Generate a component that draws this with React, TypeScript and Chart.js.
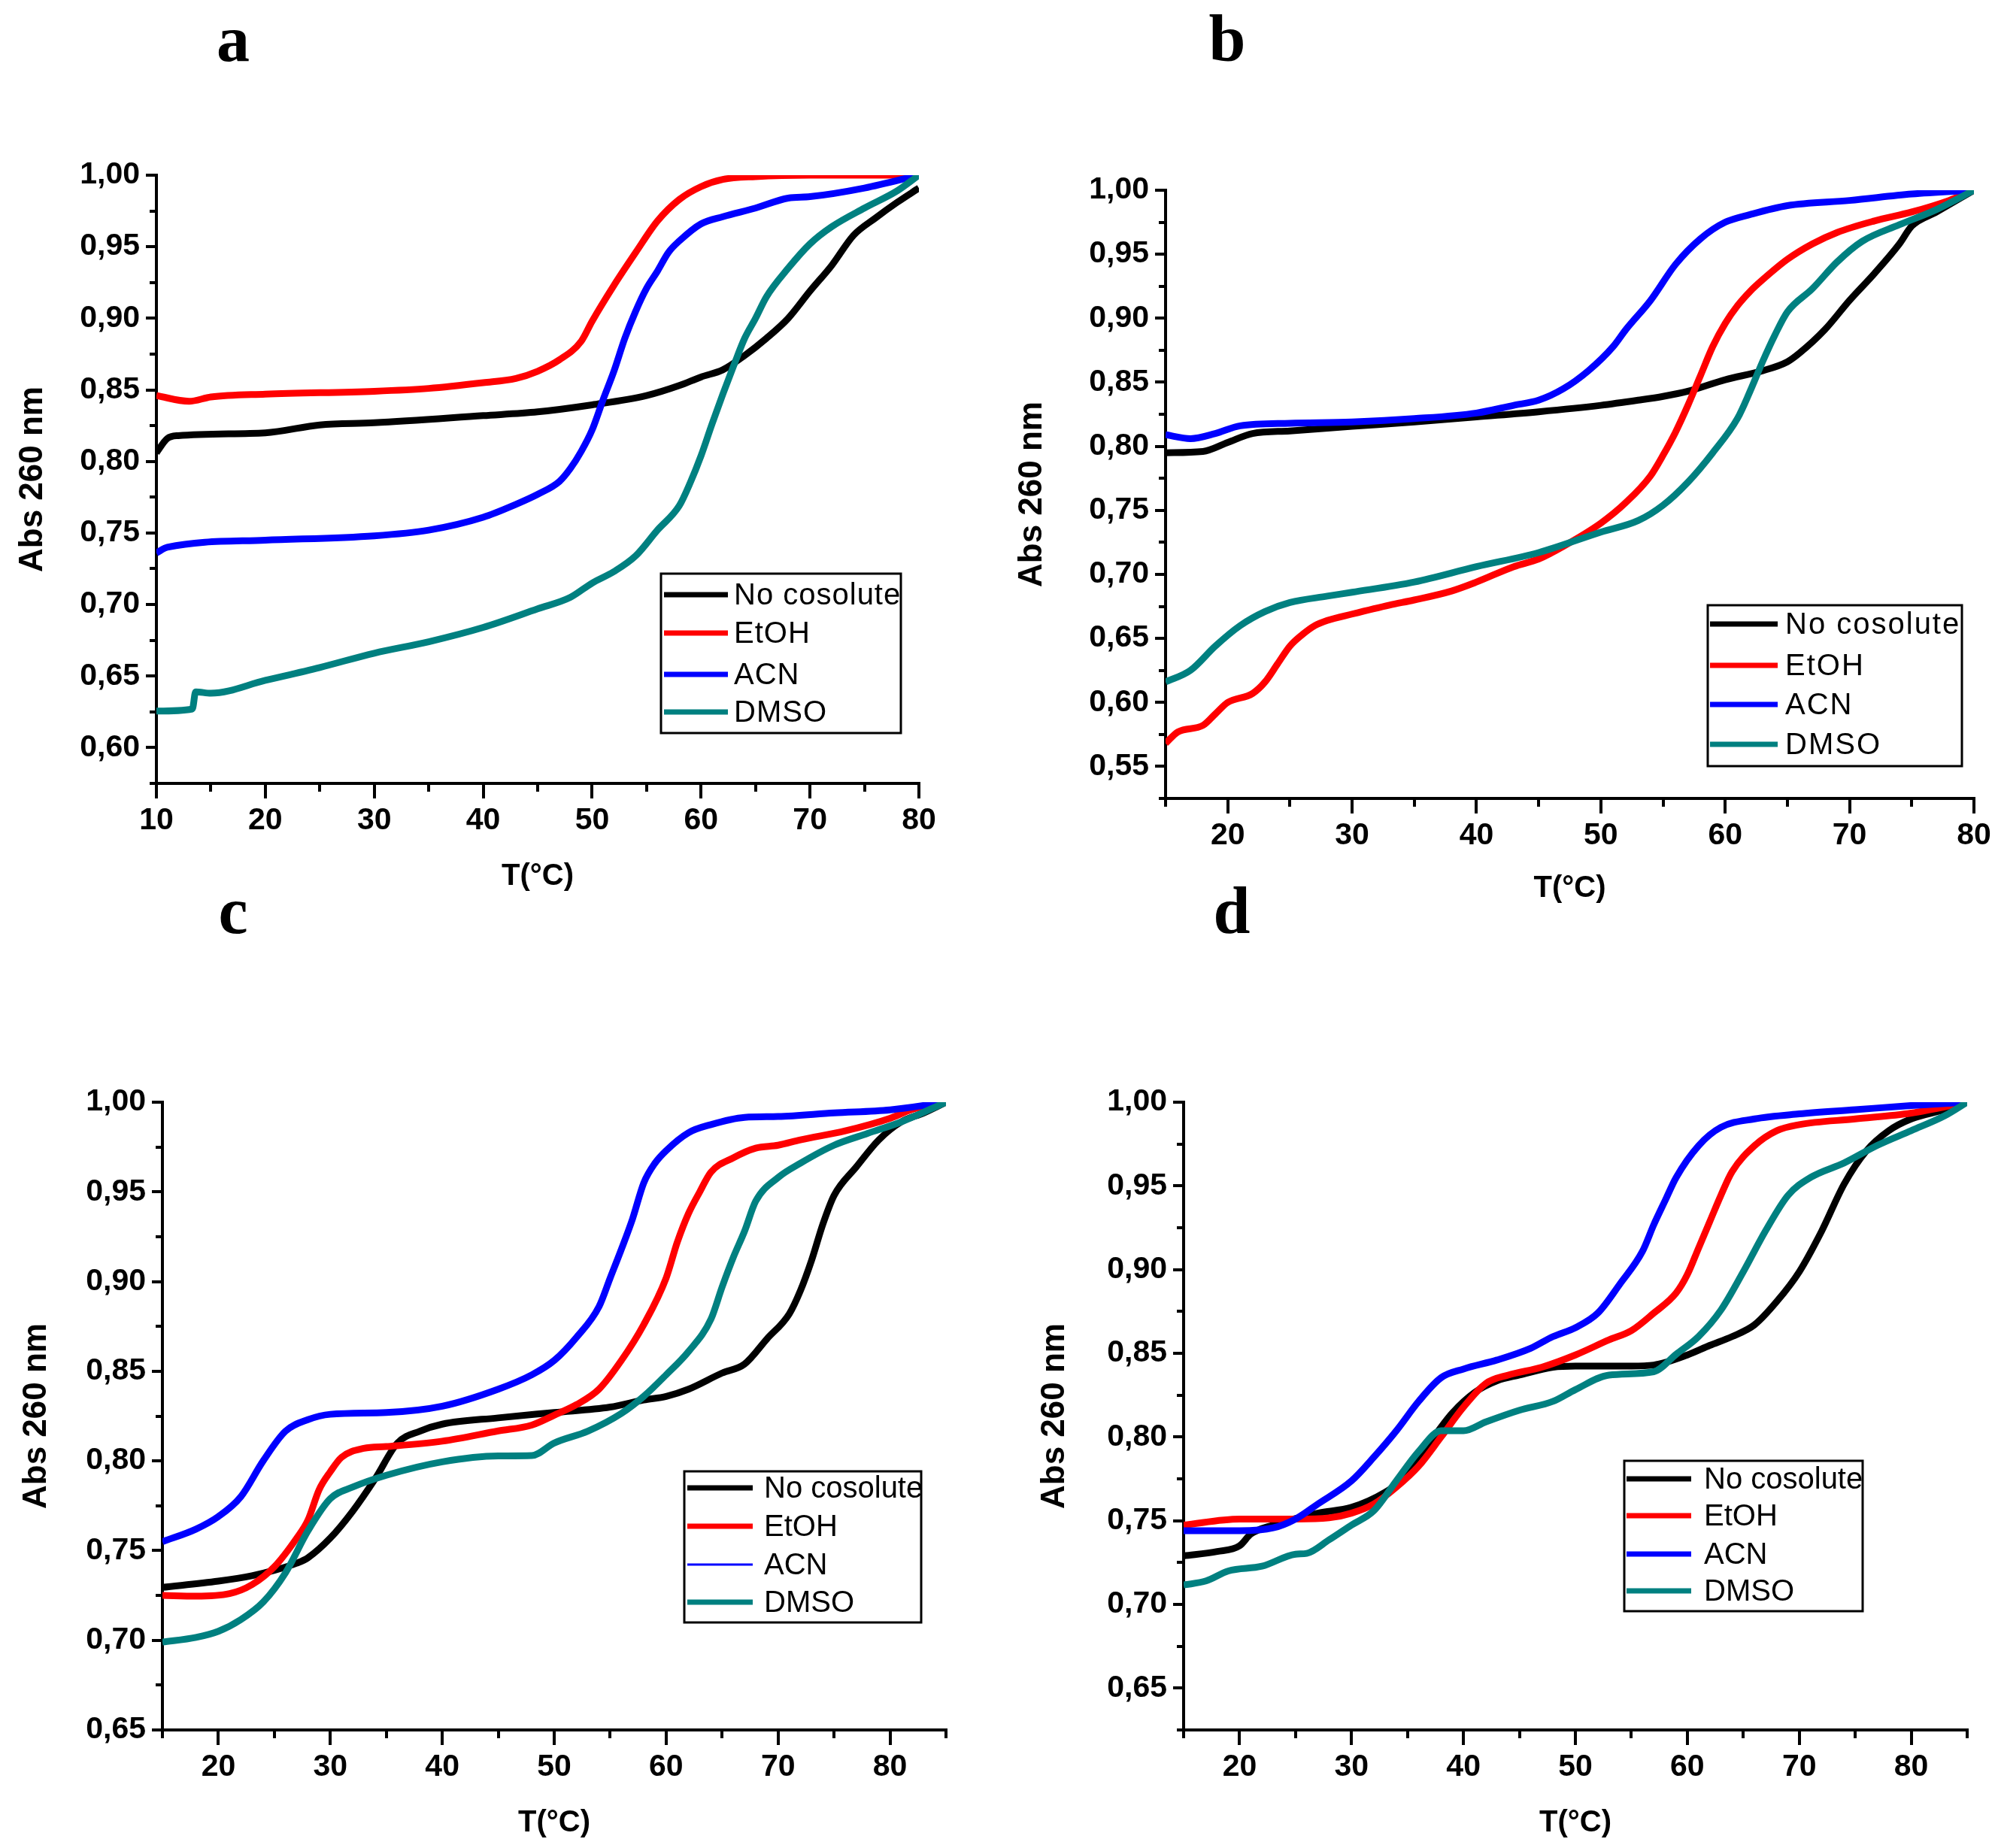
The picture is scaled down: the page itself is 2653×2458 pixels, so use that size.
import React, { useEffect, useRef } from 'react';
import { Chart, registerables } from 'chart.js';

Chart.register(...registerables);

// ---------- labels ----------
const seriesLabels = ['No cosolute', 'EtOH', 'ACN', 'DMSO'];
const seriesColors = ['#000000', '#ff0000', '#0000ff', '#008080'];

// ---------- panel a ----------
const aNoneT = [10, 11, 12, 20, 25, 30, 40, 45, 50, 55, 58, 60, 62, 64, 66, 68, 70, 72, 74, 76, 78, 80];
const aNoneAbs = [0.806, 0.816, 0.818, 0.820, 0.8255, 0.827, 0.832, 0.8346, 0.8395, 0.846, 0.853, 0.859, 0.864, 0.874, 0.886, 0.900, 0.919, 0.937, 0.958, 0.970, 0.981, 0.991];
const aEtohT = [10, 13, 15, 20, 30, 35, 40, 43, 45, 47, 49, 50, 52, 54, 56, 58, 60, 62, 65, 70, 80];
const aEtohAbs = [0.846, 0.842, 0.845, 0.847, 0.849, 0.851, 0.855, 0.858, 0.863, 0.871, 0.884, 0.898, 0.923, 0.946, 0.968, 0.983, 0.992, 0.997, 0.999, 1.0, 1.0];
const aAcnT = [10, 11, 20, 30, 35, 40, 43, 45, 47, 48, 49, 50, 51, 52, 53, 54, 55, 56, 57, 58, 60, 62, 65, 68, 70, 75, 80];
const aAcnAbs = [0.736, 0.740, 0.745, 0.748, 0.752, 0.761, 0.770, 0.777, 0.786, 0.795, 0.807, 0.822, 0.843, 0.863, 0.886, 0.905, 0.921, 0.933, 0.946, 0.954, 0.966, 0.971, 0.977, 0.984, 0.985, 0.991, 1.0];
const aDmsoT = [10, 13.3, 13.6, 15, 20, 25, 30, 35, 40, 45, 48, 50, 52, 54, 56, 58, 59, 60, 61, 62, 63, 64, 65, 66, 68, 70, 72, 75, 78, 80];
const aDmsoAbs = [0.6255, 0.627, 0.639, 0.638, 0.647, 0.656, 0.666, 0.674, 0.684, 0.697, 0.705, 0.715, 0.723, 0.734, 0.752, 0.769, 0.785, 0.804, 0.826, 0.847, 0.867, 0.886, 0.900, 0.915, 0.935, 0.952, 0.964, 0.977, 0.989, 1.0];

// ---------- panel b ----------
const bNoneT = [15, 18, 20, 22, 25, 30, 35, 40, 45, 50, 53, 55, 57, 60, 63, 65, 66, 68, 70, 72, 74, 75, 77, 80];
const bNoneAbs = [0.795, 0.796, 0.803, 0.810, 0.812, 0.8156, 0.819, 0.823, 0.827, 0.832, 0.836, 0.839, 0.843, 0.852, 0.859, 0.866, 0.873, 0.891, 0.914, 0.935, 0.958, 0.972, 0.983, 1.0];
const bEtohT = [15, 16, 18, 19, 20, 22, 23, 24, 25, 26, 27, 28, 30, 33, 35, 38, 40, 43, 45, 47, 50, 52, 54, 55, 56, 57, 58, 59, 60, 61, 62, 63, 65, 67, 69, 72, 75, 78, 80];
const bEtohAbs = [0.568, 0.577, 0.582, 0.591, 0.600, 0.607, 0.616, 0.630, 0.644, 0.653, 0.660, 0.664, 0.669, 0.676, 0.680, 0.687, 0.694, 0.706, 0.712, 0.722, 0.740, 0.756, 0.777, 0.793, 0.811, 0.832, 0.855, 0.878, 0.896, 0.910, 0.921, 0.930, 0.946, 0.958, 0.967, 0.976, 0.983, 0.992, 1.0];
const bAcnT = [15, 17, 19, 21, 25, 30, 35, 40, 43, 45, 47, 49, 51, 52, 54, 56, 58, 60, 62, 65, 70, 75, 80];
const bAcnAbs = [0.809, 0.806, 0.810, 0.816, 0.818, 0.819, 0.8216, 0.826, 0.832, 0.836, 0.845, 0.859, 0.878, 0.891, 0.914, 0.942, 0.962, 0.975, 0.981, 0.988, 0.992, 0.997, 1.0];
const bDmsoT = [15, 17, 19, 21, 23, 25, 28, 30, 35, 40, 45, 50, 53, 55, 57, 59, 61, 62, 63, 64, 65, 67, 69, 71, 74, 77, 80];
const bDmsoAbs = [0.616, 0.625, 0.644, 0.660, 0.671, 0.678, 0.683, 0.686, 0.694, 0.706, 0.717, 0.733, 0.742, 0.754, 0.772, 0.795, 0.822, 0.843, 0.866, 0.887, 0.905, 0.923, 0.944, 0.960, 0.973, 0.985, 1.0];

// ---------- panel c ----------
const cNoneT = [15, 20, 23, 25, 27, 28, 30, 32, 34, 36, 38, 40, 45, 50, 55, 58, 60, 62, 65, 67, 69, 71, 72, 73, 74, 75, 77, 79, 81, 83, 85];
const cNoneAbs = [0.7295, 0.733, 0.736, 0.739, 0.743, 0.746, 0.757, 0.772, 0.790, 0.810, 0.8166, 0.8205, 0.824, 0.827, 0.830, 0.834, 0.836, 0.840, 0.849, 0.854, 0.868, 0.882, 0.895, 0.912, 0.932, 0.948, 0.964, 0.979, 0.989, 0.994, 1.0];
const cEtohT = [15, 18, 21, 23, 25, 27, 28, 29, 30, 31, 33, 35, 40, 45, 48, 50, 52, 54, 56, 58, 60, 61, 62, 63, 64, 66, 68, 70, 72, 76, 80, 82, 85];
const cEtohAbs = [0.725, 0.7246, 0.726, 0.731, 0.741, 0.757, 0.767, 0.784, 0.794, 0.802, 0.807, 0.808, 0.811, 0.8167, 0.820, 0.8255, 0.8314, 0.840, 0.856, 0.876, 0.902, 0.922, 0.938, 0.950, 0.961, 0.969, 0.9744, 0.976, 0.979, 0.984, 0.991, 0.996, 1.0];
const cAcnT = [15, 18, 20, 22, 24, 26, 28, 30, 35, 40, 45, 48, 50, 52, 54, 55, 56, 57, 58, 59, 60, 62, 64, 67, 70, 75, 80, 85];
const cAcnAbs = [0.755, 0.762, 0.769, 0.780, 0.800, 0.8166, 0.823, 0.826, 0.827, 0.8305, 0.840, 0.848, 0.856, 0.869, 0.886, 0.902, 0.918, 0.935, 0.955, 0.966, 0.973, 0.983, 0.9875, 0.9915, 0.992, 0.994, 0.9957, 1.0];
const cDmsoT = [15, 18, 20, 22, 24, 26, 28, 30, 32, 35, 40, 45, 48, 50, 53, 56, 58, 60, 62, 64, 65, 66, 67, 68, 70, 72, 75, 78, 81, 85];
const cDmsoAbs = [0.699, 0.7016, 0.705, 0.7115, 0.7213, 0.7377, 0.761, 0.779, 0.7854, 0.792, 0.7995, 0.8028, 0.803, 0.810, 0.8166, 0.8265, 0.836, 0.848, 0.861, 0.879, 0.897, 0.9135, 0.928, 0.9448, 0.958, 0.966, 0.976, 0.9826, 0.989, 1.0];

// ---------- panel d ----------
const dNoneT = [15, 18, 20, 21, 23, 27, 30, 33, 35, 37, 39, 41, 43, 45, 48, 50, 55, 57, 60, 62, 64, 66, 68, 70, 72, 74, 76, 78, 80, 83, 85];
const dNoneAbs = [0.729, 0.7316, 0.735, 0.742, 0.7474, 0.7545, 0.758, 0.767, 0.777, 0.7967, 0.8143, 0.8266, 0.8336, 0.837, 0.8417, 0.8424, 0.8424, 0.843, 0.849, 0.8547, 0.86, 0.867, 0.881, 0.8987, 0.923, 0.951, 0.971, 0.983, 0.990, 0.9955, 1.0];
const dEtohT = [15, 20, 25, 28, 30, 32, 34, 36, 38, 40, 42, 44, 47, 50, 53, 55, 57, 59, 60, 61, 62, 63, 64, 66, 68, 70, 75, 80, 85];
const dEtohAbs = [0.7474, 0.751, 0.751, 0.7517, 0.7545, 0.76, 0.770, 0.7826, 0.800, 0.8178, 0.832, 0.837, 0.8417, 0.849, 0.858, 0.8635, 0.874, 0.886, 0.897, 0.9128, 0.9286, 0.9444, 0.9585, 0.974, 0.983, 0.9866, 0.990, 0.9935, 1.0];
const dAcnT = [15, 20, 23, 25, 27, 30, 32, 34, 36, 38, 40, 43, 46, 48, 50, 52, 54, 56, 57, 58, 59, 61, 63, 66, 70, 75, 80, 85];
const dAcnAbs = [0.744, 0.744, 0.7457, 0.751, 0.760, 0.7738, 0.788, 0.8037, 0.8213, 0.8354, 0.8406, 0.846, 0.853, 0.860, 0.8653, 0.874, 0.8916, 0.911, 0.9268, 0.941, 0.955, 0.974, 0.985, 0.990, 0.993, 0.9955, 0.998, 1.0];
const dDmsoT = [15, 17, 19, 22, 25, 26, 28, 30, 32, 34, 36, 38, 40, 42, 45, 48, 50, 53, 57, 59, 61, 63, 65, 67, 69, 71, 74, 77, 80, 83, 85];
const dDmsoAbs = [0.7116, 0.714, 0.720, 0.7228, 0.730, 0.7305, 0.7386, 0.7474, 0.756, 0.7738, 0.7914, 0.8037, 0.8037, 0.809, 0.816, 0.8213, 0.8283, 0.837, 0.839, 0.8494, 0.860, 0.8758, 0.8987, 0.9233, 0.9444, 0.955, 0.9637, 0.9743, 0.983, 0.9919, 1.0];

// ---------- ticks ----------
const aXMajor = [10, 20, 30, 40, 50, 60, 70, 80];
const aXMinor = [15, 25, 35, 45, 55, 65, 75];
const aYMajor = [0.6, 0.65, 0.7, 0.75, 0.8, 0.85, 0.9, 0.95, 1.0];
const aYMinor = [0.575, 0.625, 0.675, 0.725, 0.775, 0.825, 0.875, 0.925, 0.975];

const bXMajor = [20, 30, 40, 50, 60, 70, 80];
const bXMinor = [15, 25, 35, 45, 55, 65, 75];
const bYMajor = [0.55, 0.6, 0.65, 0.7, 0.75, 0.8, 0.85, 0.9, 0.95, 1.0];
const bYMinor = [0.525, 0.575, 0.625, 0.675, 0.725, 0.775, 0.825, 0.875, 0.925, 0.975];

const cXMajor = [20, 30, 40, 50, 60, 70, 80];
const cXMinor = [15, 25, 35, 45, 55, 65, 75, 85];
const cYMajor = [0.65, 0.7, 0.75, 0.8, 0.85, 0.9, 0.95, 1.0];
const cYMinor = [0.675, 0.725, 0.775, 0.825, 0.875, 0.925, 0.975];

const dXMajor = [20, 30, 40, 50, 60, 70, 80];
const dXMinor = [15, 25, 35, 45, 55, 65, 75, 85];
const dYMajor = [0.65, 0.7, 0.75, 0.8, 0.85, 0.9, 0.95, 1.0];
const dYMinor = [0.625, 0.675, 0.725, 0.775, 0.825, 0.875, 0.925, 0.975];

const xTitle = 'T(°C)';
const yTitle = 'Abs 260 nm';

type Series = { t: number[]; abs: number[] };

type PanelCfg = {
  letter: string;
  letterX: number;
  letterBaseline: number;
  left: number;
  top: number;
  width: number;
  height: number;
  area: { left: number; right: number; top: number; bottom: number };
  padLeft: number;
  padBottom: number;
  xMin: number;
  xMax: number;
  yMin: number;
  yMax: number;
  xMajor: number[];
  xMinor: number[];
  yMajor: number[];
  yMinor: number[];
  series: Series[];
  legend: {
    box: [number, number, number, number];
    rows: number[];
    lineX: [number, number];
    textX: number;
    lineWidths: number[];
    spacing: string;
  };
};

const panels: PanelCfg[] = [
  {
    letter: 'a', letterX: 310, letterBaseline: 82,
    left: 0, top: 0, width: 1326, height: 1229,
    area: { left: 208, right: 1222, top: 233, bottom: 1042 },
    padLeft: 17, padBottom: 39,
    xMin: 10, xMax: 80, yMin: 0.575, yMax: 1.0,
    xMajor: aXMajor, xMinor: aXMinor, yMajor: aYMajor, yMinor: aYMinor,
    series: [
      { t: aNoneT, abs: aNoneAbs },
      { t: aEtohT, abs: aEtohAbs },
      { t: aAcnT, abs: aAcnAbs },
      { t: aDmsoT, abs: aDmsoAbs },
    ],
    legend: { box: [879, 763, 1198, 975], rows: [791, 842, 897, 947], lineX: [883, 968], textX: 976, lineWidths: [7, 7, 7, 7], spacing: '1px' },
  },
  {
    letter: 'b', letterX: 1632, letterBaseline: 82,
    left: 1326, top: 0, width: 1327, height: 1229,
    area: { left: 224, right: 1299, top: 253, bottom: 1062 },
    padLeft: 20, padBottom: 23,
    xMin: 15, xMax: 80, yMin: 0.525, yMax: 1.0,
    xMajor: bXMajor, xMinor: bXMinor, yMajor: bYMajor, yMinor: bYMinor,
    series: [
      { t: bNoneT, abs: bNoneAbs },
      { t: bEtohT, abs: bEtohAbs },
      { t: bAcnT, abs: bAcnAbs },
      { t: bDmsoT, abs: bDmsoAbs },
    ],
    legend: { box: [945, 805, 1283, 1019], rows: [830, 885, 937, 990], lineX: [948, 1038], textX: 1048, lineWidths: [7, 7, 7, 7], spacing: '2px' },
  },
  {
    letter: 'c', letterX: 310, letterBaseline: 1242,
    left: 0, top: 1229, width: 1326, height: 1229,
    area: { left: 216, right: 1258, top: 237, bottom: 1072 },
    padLeft: 22, padBottom: 9,
    xMin: 15, xMax: 85, yMin: 0.65, yMax: 1.0,
    xMajor: cXMajor, xMinor: cXMinor, yMajor: cYMajor, yMinor: cYMinor,
    series: [
      { t: cNoneT, abs: cNoneAbs },
      { t: cEtohT, abs: cEtohAbs },
      { t: cAcnT, abs: cAcnAbs },
      { t: cDmsoT, abs: cDmsoAbs },
    ],
    legend: { box: [910, 728, 1225, 929], rows: [750, 801, 852, 902], lineX: [914, 1001], textX: 1016, lineWidths: [7, 7, 3, 7], spacing: '0px' },
  },
  {
    letter: 'd', letterX: 1638, letterBaseline: 1242,
    left: 1326, top: 1229, width: 1327, height: 1229,
    area: { left: 248, right: 1290, top: 237, bottom: 1072 },
    padLeft: 50, padBottom: 9,
    xMin: 15, xMax: 85, yMin: 0.625, yMax: 1.0,
    xMajor: dXMajor, xMinor: dXMinor, yMajor: dYMajor, yMinor: dYMinor,
    series: [
      { t: dNoneT, abs: dNoneAbs },
      { t: dEtohT, abs: dEtohAbs },
      { t: dAcnT, abs: dAcnAbs },
      { t: dDmsoT, abs: dDmsoAbs },
    ],
    legend: { box: [834, 714, 1151, 914], rows: [738, 787, 838, 887], lineX: [837, 923], textX: 940, lineWidths: [7, 7, 7, 7], spacing: '0px' },
  },
];

const minorTickPlugin = {
  id: 'minorTicks',
  afterDraw(chart: any, _args: any, opts: any) {
    const { ctx, chartArea } = chart;
    const xs = chart.scales.x;
    const ys = chart.scales.y;
    ctx.save();
    ctx.strokeStyle = '#000';
    ctx.lineWidth = 4;
    ctx.lineCap = 'butt';
    (opts.x || []).forEach((v: number) => {
      const px = Math.round(xs.getPixelForValue(v));
      ctx.beginPath();
      ctx.moveTo(px, chartArea.bottom);
      ctx.lineTo(px, chartArea.bottom + 11);
      ctx.stroke();
    });
    (opts.y || []).forEach((v: number) => {
      const py = Math.round(ys.getPixelForValue(v));
      ctx.beginPath();
      ctx.moveTo(chartArea.left - 9, py);
      ctx.lineTo(chartArea.left, py);
      ctx.stroke();
    });
    ctx.restore();
  },
};

const boxLegendPlugin = {
  id: 'boxLegend',
  afterDraw(chart: any, _args: any, opts: any) {
    if (!opts || !opts.box) return;
    const { ctx } = chart;
    const [x1, y1, x2, y2] = opts.box;
    ctx.save();
    ctx.strokeStyle = '#000';
    ctx.lineWidth = 3;
    ctx.fillStyle = '#fff';
    ctx.fillRect(x1, y1, x2 - x1, y2 - y1);
    ctx.strokeRect(x1, y1, x2 - x1, y2 - y1);
    ctx.font = "40px 'Liberation Sans', Arial, sans-serif";
    ctx.textBaseline = 'middle';
    ctx.textAlign = 'left';
    try { (ctx as any).letterSpacing = opts.spacing || '0px'; } catch (e) { /* ignore */ }
    chart.data.datasets.forEach((ds: any, i: number) => {
      const y = opts.rows[i];
      ctx.strokeStyle = ds.borderColor;
      ctx.lineWidth = opts.lineWidths[i];
      ctx.beginPath();
      ctx.moveTo(opts.lineX[0], y);
      ctx.lineTo(opts.lineX[1], y);
      ctx.stroke();
      ctx.fillStyle = '#000';
      ctx.fillText(ds.label, opts.textX, y + 2);
    });
    ctx.restore();
  },
};

const fmt = (v: number) => v.toFixed(2).replace('.', ',');

function Panel({ cfg }: { cfg: PanelCfg }) {
  const ref = useRef<HTMLCanvasElement | null>(null);

  useEffect(() => {
    if (!ref.current) return;
    const tickFont = { family: "'Liberation Sans', Arial, sans-serif", size: 41, weight: 'bold' as const };
    const chart = new Chart(ref.current, {
      type: 'line',
      data: {
        datasets: cfg.series.map((s, i) => ({
          label: seriesLabels[i],
          data: s.t.map((t, j) => ({ x: t, y: s.abs[j] })),
          borderColor: seriesColors[i],
          backgroundColor: seriesColors[i],
          borderWidth: 9,
          pointRadius: 0,
          fill: false,
          cubicInterpolationMode: 'monotone' as const,
          order: 3 - i,
        })),
      },
      plugins: [minorTickPlugin, boxLegendPlugin],
      options: {
        animation: false,
        responsive: false,
        devicePixelRatio: 1,
        events: [],
        layout: {
          padding: {
            top: cfg.area.top,
            right: cfg.width - cfg.area.right,
            left: cfg.padLeft,
            bottom: cfg.padBottom,
          },
        },
        plugins: {
          legend: { display: false },
          tooltip: { enabled: false },
          title: { display: false },
          minorTicks: { x: cfg.xMinor, y: cfg.yMinor },
          boxLegend: cfg.legend,
        } as any,
        scales: {
          x: {
            type: 'linear',
            min: cfg.xMin,
            max: cfg.xMax,
            afterFit: (s: any) => { s.height = cfg.height - cfg.padBottom - cfg.area.bottom; },
            afterBuildTicks: (s: any) => { s.ticks = cfg.xMajor.map((v) => ({ value: v })); },
            grid: { drawOnChartArea: false, drawTicks: true, tickLength: 20, lineWidth: 4, color: '#000' },
            border: { display: true, width: 4, color: '#000' },
            ticks: {
              autoSkip: false,
              maxRotation: 0,
              minRotation: 0,
              padding: 5,
              color: '#000',
              font: tickFont,
              callback: (v: any) => String(Math.round(Number(v))),
            },
            title: {
              display: true,
              text: xTitle,
              color: '#000',
              padding: 0,
              font: { family: "'Liberation Sans', Arial, sans-serif", size: 40, weight: 'bold' },
            },
          },
          y: {
            type: 'linear',
            min: cfg.yMin,
            max: cfg.yMax,
            afterFit: (s: any) => { s.width = cfg.area.left - cfg.padLeft; },
            afterBuildTicks: (s: any) => { s.ticks = cfg.yMajor.map((v) => ({ value: v })); },
            grid: { drawOnChartArea: false, drawTicks: true, tickLength: 14, lineWidth: 4, color: '#000' },
            border: { display: true, width: 4, color: '#000' },
            ticks: {
              autoSkip: false,
              padding: 8,
              color: '#000',
              font: tickFont,
              callback: (v: any) => fmt(Number(v)),
            },
            title: {
              display: true,
              text: yTitle,
              color: '#000',
              padding: 0,
              font: { family: "'Liberation Sans', Arial, sans-serif", size: 44, weight: 'bold' },
            },
          },
        },
      } as any,
    });
    return () => chart.destroy();
  }, [cfg]);

  return (
    <div style={{ position: 'absolute', left: cfg.left, top: cfg.top, width: cfg.width, height: cfg.height }}>
      <canvas ref={ref} width={cfg.width} height={cfg.height} style={{ display: 'block', width: cfg.width, height: cfg.height }} />
    </div>
  );
}

export default function App() {
  return (
    <div style={{ position: 'absolute', left: 0, top: 0, width: 2653, height: 2458, background: '#fff', overflow: 'hidden' }}>
      {panels.map((p) => (
        <Panel key={p.letter} cfg={p} />
      ))}
      {panels.map((p) => (
        <div
          key={'L' + p.letter}
          style={{
            position: 'absolute',
            left: p.letterX - 100,
            top: p.letterBaseline - 74,
            width: 200,
            textAlign: 'center',
            font: "bold 88px 'Liberation Serif', 'Times New Roman', serif",
            lineHeight: '88px',
            color: '#000',
          }}
        >
          {p.letter}
        </div>
      ))}
    </div>
  );
}
